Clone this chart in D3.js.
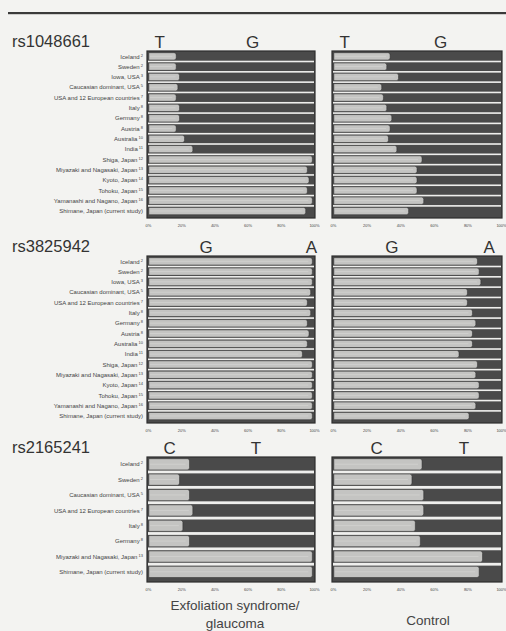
<!DOCTYPE html>
<html><head><meta charset="utf-8">
<script src="https://cdn.jsdelivr.net/npm/d3@7"></script>
<style>
html,body{margin:0;padding:0;background:#f3f3f1;}
svg{display:block;}
text{font-family:"Liberation Sans",Arial,sans-serif;}
</style></head>
<body>
<svg id="chart" width="506" height="631"></svg>
<script>
// ---- data ----
const populations16 = ["Iceland","Sweden","Iowa, USA","Caucasian dominant, USA","USA and 12 European countries","Italy","Germany","Austria","Australia","India","Shiga, Japan","Miyazaki and Nagasaki, Japan","Kyoto, Japan","Tohoku, Japan","Yamanashi and Nagano, Japan","Shimane, Japan (current study)"];
const refs16 = ["2","2","3","5","7","8","8","8","10","11","12","13","14","15","16",""];
const populations8 = ["Iceland","Sweden","Caucasian dominant, USA","USA and 12 European countries","Italy","Germany","Miyazaki and Nagasaki, Japan","Shimane, Japan (current study)"];
const refs8 = ["2","2","5","7","8","8","13",""];

const snps = ["rs1048661","rs3825942","rs2165241"];
const alleles1 = ["T","G"];
const alleles2 = ["G","A"];
const alleles3 = ["C","T"];

// frequency of first allele
const rs1048661_case = [0.17,0.17,0.19,0.18,0.17,0.19,0.19,0.17,0.22,0.27,0.99,0.96,0.97,0.96,0.99,0.95];
const rs1048661_ctrl = [0.34,0.32,0.39,0.29,0.30,0.32,0.35,0.34,0.33,0.38,0.53,0.50,0.50,0.50,0.54,0.45];
const rs3825942_case = [0.99,0.99,0.99,0.98,0.96,0.98,0.96,0.97,0.96,0.93,0.99,0.99,0.99,0.99,0.99,0.99];
const rs3825942_ctrl = [0.86,0.87,0.88,0.80,0.80,0.83,0.85,0.83,0.83,0.75,0.86,0.85,0.87,0.87,0.85,0.81];
const rs2165241_case = [0.25,0.19,0.25,0.27,0.21,0.25,0.99,0.99];
const rs2165241_ctrl = [0.53,0.47,0.54,0.54,0.49,0.52,0.89,0.87];

const tickValues = [0,0.2,0.4,0.6,0.8,1.0];
const groupLabels = [["Exfoliation syndrome/","glaucoma"],["Control"]];

// ---- layout ----
const panels = [
  {snp:snps[0], alleles:alleles1, pops:populations16, refs:refs16, caseV:rs1048661_case, ctrlV:rs1048661_ctrl, top:52, bottom:217,
   letterPos:[[0.07,0.63],[0.07,0.64]]},
  {snp:snps[1], alleles:alleles2, pops:populations16, refs:refs16, caseV:rs3825942_case, ctrlV:rs3825942_ctrl, top:257, bottom:422,
   letterPos:[[0.35,0.985],[0.35,0.93]]},
  {snp:snps[2], alleles:alleles3, pops:populations8, refs:refs8, caseV:rs2165241_case, ctrlV:rs2165241_ctrl, top:458, bottom:581,
   letterPos:[[0.13,0.65],[0.26,0.78]]}
];
const cols = [[148,314],[333,501]];
const LIGHT = "#c4c4c2", DARK = "#4a4a4a", FRAME = "#2e2e2e", SEP = "#efefed", TXT = "#333";

const svg = d3.select("#chart");

// top rule
svg.append("rect").attr("x",8).attr("y",12).attr("width",498).attr("height",2.2).attr("fill","#3a3a3a");

panels.forEach(p => {
  const y = d3.scaleBand().domain(p.pops).range([p.top, p.bottom]);
  const bw = y.bandwidth();
  const sepH = bw>12 ? 2.8 : 1.6;
  // title
  svg.append("text").attr("x",12).attr("y",p.top-5).attr("font-size",16.5).attr("fill",TXT).text(p.snp);
  // row labels
  const lab = svg.append("g");
  p.pops.forEach((name,i)=>{
    const t = lab.append("text").attr("x",143).attr("y",y(name)+(bw-sepH)/2+2.2)
      .attr("text-anchor","end").attr("font-size",6).attr("fill","#444");
    t.append("tspan").text(name);
    if (p.refs[i]) t.append("tspan").attr("dy",-2).attr("font-size",4).text(" "+p.refs[i]);
  });
  [p.caseV, p.ctrlV].forEach((vals, ci) => {
    const x = d3.scaleLinear().domain([0,1]).range(cols[ci]);
    const g = svg.append("g");
    // frame/background
    g.append("rect").attr("x",x(0)-1).attr("y",p.top-1).attr("width",x(1)-x(0)+2).attr("height",p.bottom-p.top+2)
      .attr("fill",DARK).attr("stroke",FRAME).attr("stroke-width",1.2);
    g.selectAll(".lt").data(vals).join("path")
      .attr("d",(d,i)=>{
        const y0 = y(p.pops[i])+0.7, h = bw-sepH-1.4, x0 = x(0)+0.8, x1 = x(d);
        const r = Math.min(h/2, 2.2);
        return `M${x0},${y0}H${x1-r}Q${x1},${y0} ${x1},${y0+r}V${y0+h-r}Q${x1},${y0+h} ${x1-r},${y0+h}H${x0}Z`;
      })
      .attr("fill",LIGHT).attr("stroke","#2a2a2a").attr("stroke-width",0.5);
    // white separators
    g.selectAll(".sp").data(vals.slice(0,-1)).join("rect")
      .attr("x",x(0)).attr("width",x(1)-x(0))
      .attr("y",(d,i)=>y(p.pops[i])+bw-sepH).attr("height",sepH)
      .attr("fill",SEP);
    // subtle texture stripe inside light portion
    g.selectAll(".hl").data(vals).join("rect")
      .attr("x",x(0)+2).attr("width",(d)=>Math.max(0,x(d)-x(0)-6))
      .attr("y",(d,i)=>y(p.pops[i])+ (bw-sepH)/2 - 0.5).attr("height",0.8)
      .attr("fill","#d2d2d0");
    // allele letters
    p.alleles.forEach((a,k)=>{
      svg.append("text").attr("x",x(p.letterPos[ci][k])).attr("y",p.top-4)
        .attr("text-anchor","middle").attr("font-size",17).attr("fill",TXT).text(a);
    });
    // axis
    const ax = svg.append("g").attr("transform",`translate(0,${p.bottom+3})`)
      .call(d3.axisBottom(x).tickValues(tickValues).tickSize(0).tickFormat(d3.format(".0%")));
    ax.select(".domain").remove();
    ax.selectAll("text").attr("font-size",4).attr("fill","#444").attr("dy","0.9em")
      .attr("font-family","'Liberation Sans',Arial,sans-serif");
  });
});

// group labels
svg.append("text").attr("x",235).attr("y",610).attr("text-anchor","middle").attr("font-size",13.5).attr("fill","#444").text(groupLabels[0][0]);
svg.append("text").attr("x",235).attr("y",628).attr("text-anchor","middle").attr("font-size",13.5).attr("fill","#444").text(groupLabels[0][1]);
svg.append("text").attr("x",428).attr("y",625).attr("text-anchor","middle").attr("font-size",13.5).attr("fill","#444").text(groupLabels[1][0]);
</script>
</body></html>
